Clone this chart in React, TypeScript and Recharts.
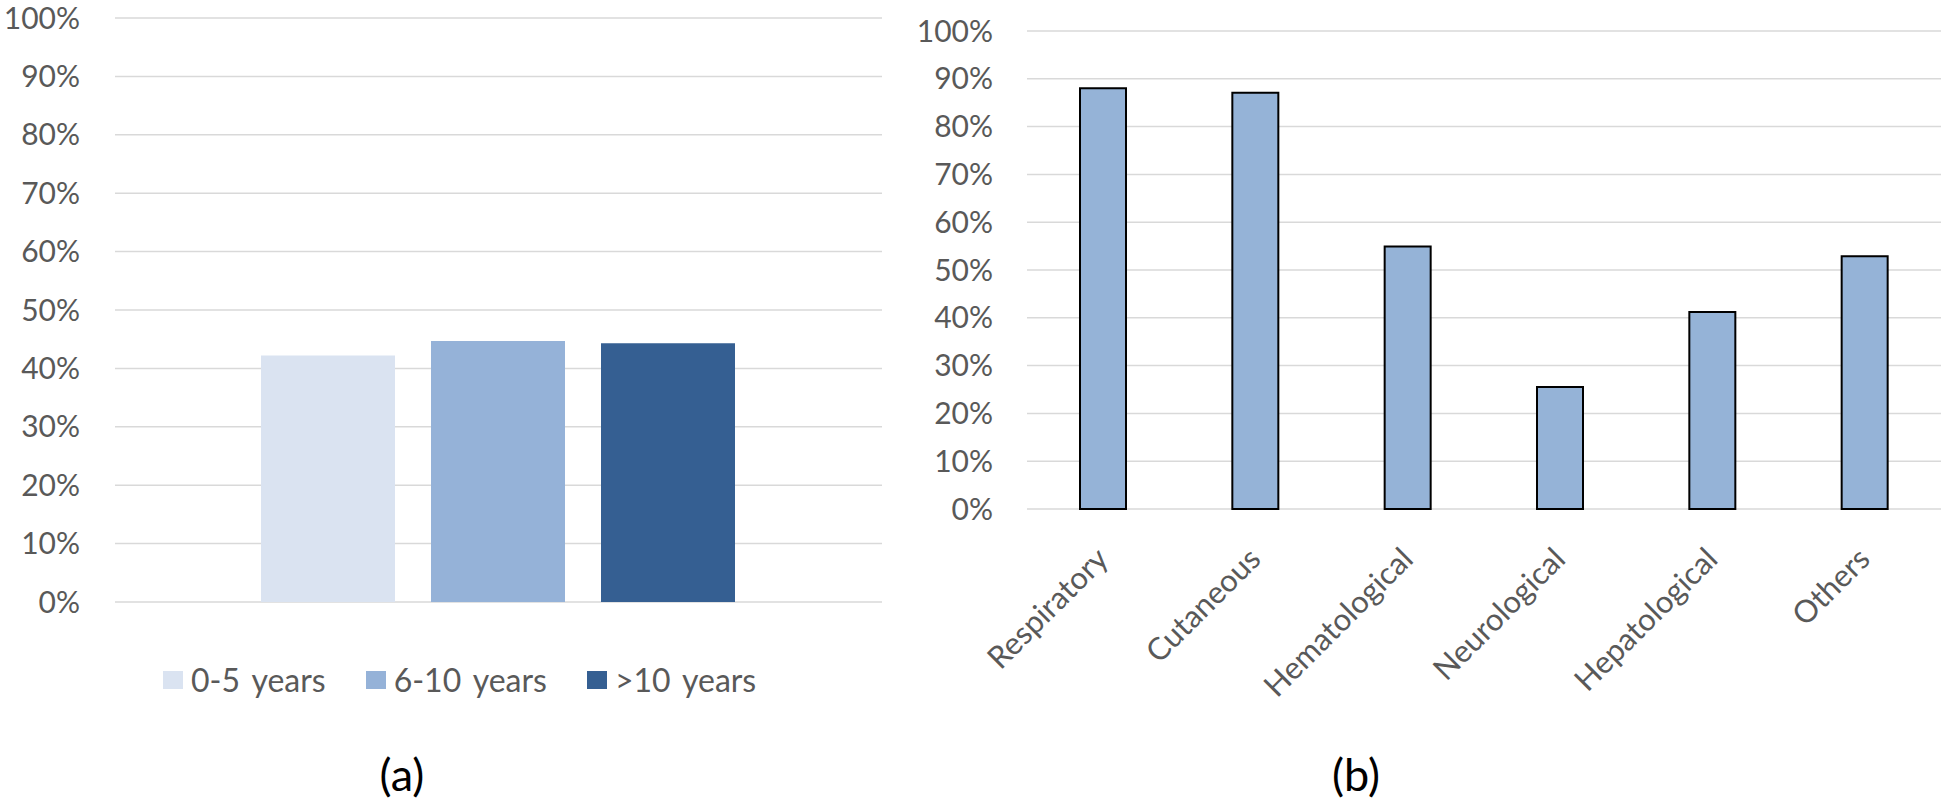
import { BarChart, Bar, XAxis, YAxis, CartesianGrid, Cell } from 'recharts'

// panel (a): share by disease duration
const ageGroups = ['0-5 years', '6-10 years', '>10 years']
const ageValues = [42.2, 44.7, 44.3]
const ageColors = ['#dae3f1', '#95b2d8', '#355f92']

// panel (b): organ involvement
const organs = ['Respiratory', 'Cutaneous', 'Hematological', 'Neurological', 'Hepatological', 'Others']
const organValues = [88.0, 87.1, 54.9, 25.5, 41.2, 52.9]

const yTicks = [0, 10, 20, 30, 40, 50, 60, 70, 80, 90, 100]

const FONT = 'Lato, "Open Sans", sans-serif'
const TEXT = '#595959'
const GRID = '#d9d9d9'

const ageRow: Record<string, string | number> = { name: '' }
ageGroups.forEach((g, i) => {
  ageRow[g] = ageValues[i]
})
const ageData = [ageRow]

const organData = organs.map((name, i) => ({ name, value: organValues[i] }))

const pct = (v: number) => `${v}%`

interface TickProps {
  x?: number
  y?: number
  payload?: { value: string }
}

function SlantTick({ x = 0, y = 0, payload }: TickProps) {
  const ax = x + 7
  const ay = y + 52
  return (
    <text
      x={ax}
      y={ay}
      textAnchor="end"
      transform={`rotate(-45, ${ax}, ${ay})`}
      fontSize={31}
      fontFamily={FONT}
      fill={TEXT}
    >
      {payload?.value}
    </text>
  )
}

function Caption({ text, cx }: { text: string; cx: number }) {
  return (
    <div
      style={{
        position: 'absolute',
        left: cx - 60,
        width: 120,
        top: 748,
        textAlign: 'center',
        fontFamily: FONT,
        fontSize: 45,
        lineHeight: '52px',
        color: '#000',
      }}
    >
      {text}
    </div>
  )
}

function DurationChart() {
  return (
    <div style={{ position: 'absolute', left: 0, top: 0 }}>
      <BarChart
        width={900}
        height={620}
        data={ageData}
        margin={{ top: 18, right: 18, bottom: 18, left: 15 }}
        barCategoryGap={146}
        barGap={36}
      >
        <CartesianGrid vertical={false} stroke={GRID} strokeWidth={1.5} />
        <XAxis dataKey="name" hide />
        <YAxis
          width={100}
          domain={[0, 100]}
          ticks={yTicks}
          tickFormatter={pct}
          axisLine={false}
          tickLine={false}
          tickSize={0}
          tickMargin={35}
          tick={{ fontSize: 30, fill: TEXT, fontFamily: FONT }}
        />
        {ageGroups.map((g, i) => (
          <Bar key={g} dataKey={g} fill={ageColors[i]} isAnimationActive={false} />
        ))}
      </BarChart>
      <div
        style={{
          position: 'absolute',
          left: 163,
          top: 660,
          display: 'flex',
          alignItems: 'center',
          fontFamily: FONT,
          fontSize: 32,
          wordSpacing: 4,
          color: TEXT,
          whiteSpace: 'nowrap',
        }}
      >
        {ageGroups.map((g, i) => (
          <div key={g} style={{ display: 'flex', alignItems: 'center', marginRight: 40 }}>
            <span style={{ width: 20, height: 18, background: ageColors[i], marginRight: 8 }} />
            <span>{g}</span>
          </div>
        ))}
      </div>
    </div>
  )
}

function OrganChart() {
  return (
    <div style={{ position: 'absolute', left: 900, top: 0 }}>
      <BarChart
        width={1044}
        height={801}
        data={organData}
        margin={{ top: 31, right: 3, bottom: 0, left: 27 }}
      >
        <CartesianGrid vertical={false} stroke={GRID} strokeWidth={1.5} />
        <XAxis
          dataKey="name"
          height={292}
          axisLine={false}
          tickLine={false}
          tickSize={0}
          tickMargin={0}
          interval={0}
          tick={<SlantTick />}
        />
        <YAxis
          width={100}
          domain={[0, 100]}
          ticks={yTicks}
          tickFormatter={pct}
          axisLine={false}
          tickLine={false}
          tickSize={0}
          tickMargin={34}
          tick={{ fontSize: 30, fill: TEXT, fontFamily: FONT }}
        />
        <Bar dataKey="value" barSize={46} fill="#95b3d7" stroke="#000" strokeWidth={2} isAnimationActive={false}>
          {organData.map((d) => (
            <Cell key={d.name} />
          ))}
        </Bar>
      </BarChart>
    </div>
  )
}

export default function App() {
  return (
    <div
      style={{
        position: 'absolute',
        left: 0,
        top: 0,
        width: 1944,
        height: 801,
        background: '#fff',
        overflow: 'hidden',
      }}
    >
      <DurationChart />
      <OrganChart />
      <Caption text="(a)" cx={402} />
      <Caption text="(b)" cx={1356} />
    </div>
  )
}
